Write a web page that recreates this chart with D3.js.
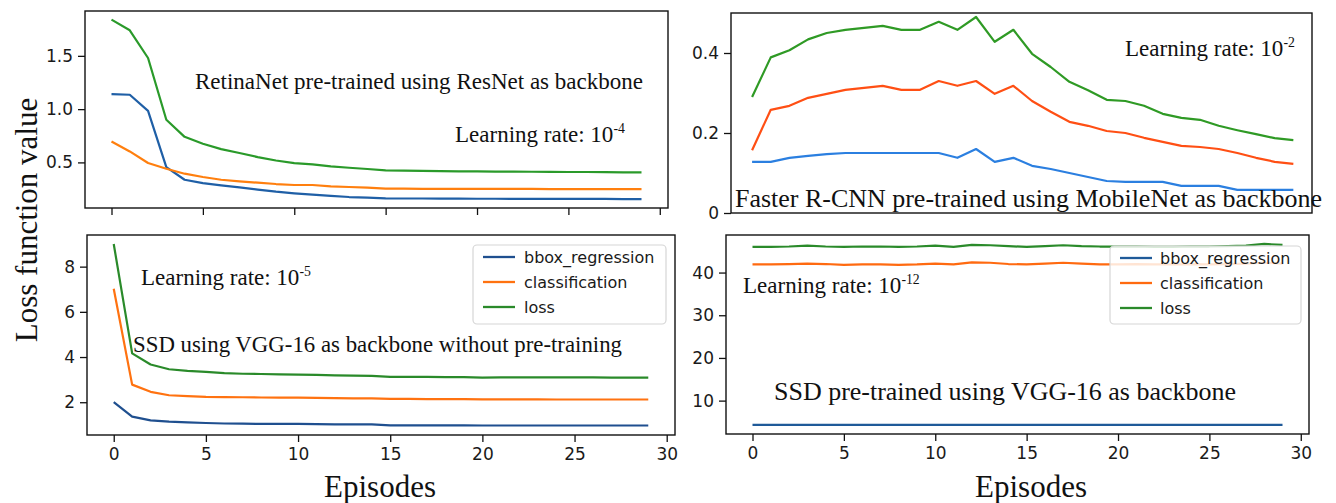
<!DOCTYPE html>
<html><head><meta charset="utf-8">
<script src="https://cdn.jsdelivr.net/npm/d3@7"></script>
<style>body{margin:0;background:#fff;} svg{display:block;}</style>
</head><body>
<svg id="chart" width="1336" height="503"></svg>
<script>
// ---------- DATA ----------
const episodes = [0,1,2,3,4,5,6,7,8,9,10,11,12,13,14,15,16,17,18,19,20,21,22,23,24,25,26,27,28,29];
const seriesNames = ["bbox_regression", "classification", "loss"];
const xTicks = [0,5,10,15,20,25,30];

// RetinaNet (top-left)
const retinaBbox = [1.14,1.135,0.984,0.455,0.337,0.306,0.284,0.265,0.244,0.225,0.21,0.197,0.185,0.175,0.169,0.162,0.161,0.161,0.16,0.16,0.159,0.159,0.158,0.158,0.158,0.157,0.157,0.157,0.156,0.156];
const retinaCls  = [0.696,0.603,0.494,0.44,0.394,0.363,0.337,0.322,0.31,0.297,0.288,0.288,0.275,0.269,0.263,0.253,0.253,0.252,0.252,0.252,0.251,0.251,0.251,0.251,0.25,0.25,0.25,0.25,0.25,0.25];
const retinaLoss = [1.84,1.74,1.48,0.90,0.74,0.675,0.625,0.588,0.55,0.518,0.494,0.482,0.462,0.45,0.438,0.425,0.422,0.42,0.418,0.416,0.415,0.414,0.413,0.412,0.411,0.41,0.41,0.408,0.407,0.406];
const retinaYTicks = [0.5, 1.0, 1.5];

// Faster R-CNN (top-right)
const fasterBbox = [0.128,0.128,0.138,0.143,0.147,0.15,0.15,0.15,0.15,0.15,0.15,0.138,0.16,0.128,0.138,0.118,0.11,0.10,0.09,0.08,0.078,0.078,0.078,0.068,0.068,0.068,0.058,0.058,0.058,0.058];
const fasterCls  = [0.157,0.258,0.268,0.288,0.298,0.308,0.313,0.318,0.308,0.308,0.33,0.318,0.33,0.298,0.318,0.28,0.253,0.228,0.218,0.205,0.2,0.188,0.178,0.168,0.165,0.16,0.15,0.138,0.128,0.123];
const fasterLoss = [0.29,0.389,0.407,0.434,0.45,0.458,0.463,0.468,0.458,0.458,0.478,0.458,0.49,0.428,0.458,0.398,0.365,0.328,0.307,0.283,0.28,0.268,0.248,0.238,0.233,0.218,0.207,0.197,0.187,0.182];
const fasterYTicks = [0, 0.2, 0.4];

// SSD without pre-training (bottom-left)
const ssdScratchBbox = [2.0,1.36,1.2,1.14,1.11,1.08,1.06,1.05,1.04,1.04,1.04,1.03,1.02,1.02,1.02,0.98,0.98,0.98,0.98,0.98,0.97,0.97,0.97,0.97,0.97,0.97,0.97,0.97,0.97,0.97];
const ssdScratchCls  = [7.02,2.78,2.46,2.31,2.27,2.24,2.23,2.22,2.21,2.2,2.2,2.19,2.18,2.17,2.17,2.15,2.15,2.14,2.14,2.14,2.13,2.13,2.13,2.13,2.12,2.12,2.12,2.12,2.12,2.12];
const ssdScratchLoss = [9.0,4.16,3.67,3.46,3.39,3.34,3.29,3.26,3.25,3.23,3.22,3.21,3.19,3.18,3.17,3.12,3.12,3.12,3.11,3.11,3.09,3.1,3.1,3.1,3.1,3.1,3.1,3.09,3.09,3.09];
const ssdScratchYTicks = [2, 4, 6, 8];

// SSD pre-trained (bottom-right)
const ssdPreBbox = [4.3,4.3,4.3,4.3,4.3,4.3,4.3,4.3,4.3,4.3,4.3,4.3,4.3,4.3,4.3,4.3,4.3,4.3,4.3,4.3,4.3,4.3,4.3,4.3,4.3,4.3,4.3,4.3,4.3,4.3];
const ssdPreCls  = [41.9,41.9,42.0,42.1,42.0,41.8,41.9,41.9,41.8,41.9,42.1,41.9,42.4,42.3,42.0,41.9,42.1,42.3,42.1,41.9,41.9,42.0,41.9,41.9,42.0,41.9,42.0,42.1,42.3,42.1];
const ssdPreLoss = [46.0,46.0,46.1,46.3,46.1,46.0,46.1,46.1,46.0,46.1,46.3,46.0,46.5,46.4,46.2,46.0,46.2,46.4,46.2,46.1,46.1,46.1,46.0,46.0,46.1,46.1,46.2,46.3,46.7,46.5];
const ssdPreYTicks = [10, 20, 30, 40];

// ---------- LAYOUT ----------
const svg = d3.select("#chart");
const SERIF = "'Liberation Serif','Times New Roman',serif";
const SANS = "'DejaVu Sans',sans-serif";
const TICK_FS = 17, LEG_FS = 16;

const panels = [
  { l:85, r:668, t:11, b:208, xd:[-1.45,30.45], yd:[0.072,1.921],
    data:[retinaBbox, retinaCls, retinaLoss], colors:["#1f5fa6","#ff7f0e","#2a9a2a"],
    yTicks:retinaYTicks, yFmt:d3.format(".1f"), xMarks:true, xLabels:false, legend:null,
    texts:[
      {x:195, y:89, size:23, parts:[["RetinaNet pre-trained using ResNet as backbone"]], len:448},
      {x:455, y:142, size:23, parts:[["Learning rate: 10"],["-4",1]]}
    ]},
  { l:731, r:1312, t:13, b:213, xd:[-1.13,30.0], yd:[0,0.5],
    data:[fasterBbox, fasterCls, fasterLoss], colors:["#2b7fe0","#ff4f14","#2f9a25"],
    yTicks:fasterYTicks, yFmt:d => d===0 ? "0" : d3.format(".1f")(d), xMarks:false, xLabels:false, legend:null,
    texts:[
      {x:1125, y:56, size:23, parts:[["Learning rate: 10"],["-2",1]]},
      {x:735, y:207, size:26, parts:[["Faster R-CNN pre-trained using MobileNet as backbone"]], len:587}
    ]},
  { l:87, r:675, t:235, b:435, xd:[-1.45,30.45], yd:[0.55,9.4],
    data:[ssdScratchBbox, ssdScratchCls, ssdScratchLoss], colors:["#1f4f8f","#ff7210","#2a8a2a"],
    yTicks:ssdScratchYTicks, yFmt:d3.format("d"), xMarks:true, xLabels:true,
    legend:{x:473, y:245, w:193, h:79, lineX:478, textX:524, rows:[257,282,307]},
    texts:[
      {x:141, y:285, size:23, parts:[["Learning rate: 10"],["-5",1]]},
      {x:133, y:352, size:23, parts:[["SSD using VGG-16 as backbone without pre-training"]], len:489}
    ]},
  { l:726, r:1309, t:235, b:434, xd:[-1.45,30.45], yd:[2.18,48.8],
    data:[ssdPreBbox, ssdPreCls, ssdPreLoss], colors:["#1f5a99","#ff6a10","#2a8a2a"],
    yTicks:ssdPreYTicks, yFmt:d3.format("d"), xMarks:true, xLabels:true,
    legend:{x:1110, y:246, w:191, h:78, lineX:1115, textX:1160, rows:[258,283,308]},
    texts:[
      {x:743, y:293, size:23, parts:[["Learning rate: 10"],["-12",1]]},
      {x:774, y:400, size:26, parts:[["SSD pre-trained using VGG-16 as backbone"]], len:462}
    ]}
];

panels.forEach(p => {
  const x = d3.scaleLinear().domain(p.xd).range([p.l, p.r]);
  const y = d3.scaleLinear().domain(p.yd).range([p.b, p.t]);
  const g = svg.append("g");

  // y axis
  const ya = g.append("g").attr("transform", `translate(${p.l},0)`)
    .call(d3.axisLeft(y).tickValues(p.yTicks).tickFormat(p.yFmt).tickSize(7).tickPadding(5).tickSizeOuter(0));
  ya.select(".domain").remove();
  ya.selectAll("line").attr("stroke","#111").attr("stroke-width",1.3);
  ya.selectAll("text").attr("font-family",SANS).attr("font-size",TICK_FS).attr("fill","#1a1a1a");

  // x axis
  if (p.xMarks) {
    const xa = g.append("g").attr("transform", `translate(0,${p.b})`)
      .call(d3.axisBottom(x).tickValues(xTicks).tickFormat(p.xLabels ? d3.format("d") : () => "").tickSize(7).tickPadding(6).tickSizeOuter(0));
    xa.select(".domain").remove();
    xa.selectAll("line").attr("stroke","#111").attr("stroke-width",1.3);
    xa.selectAll("text").attr("font-family",SANS).attr("font-size",TICK_FS).attr("fill","#1a1a1a");
  }

  // lines
  const line = d3.line().x((d,i) => x(episodes[i])).y(d => y(d));
  p.data.forEach((s, k) => {
    g.append("path").datum(s).attr("d", line).attr("fill","none")
      .attr("stroke", p.colors[k]).attr("stroke-width", 2.2).attr("stroke-linejoin","round");
  });

  // frame
  g.append("rect").attr("x",p.l).attr("y",p.t).attr("width",p.r-p.l).attr("height",p.b-p.t)
    .attr("fill","none").attr("stroke","#111").attr("stroke-width",1.4);

  // legend
  if (p.legend) {
    const L = p.legend;
    g.append("rect").attr("x",L.x).attr("y",L.y).attr("width",L.w).attr("height",L.h)
      .attr("rx",4).attr("fill","#fff").attr("fill-opacity",0.82).attr("stroke","#d6d6d6").attr("stroke-width",1.2);
    seriesNames.forEach((n,k) => {
      g.append("line").attr("x1",L.lineX+5).attr("x2",L.lineX+37).attr("y1",L.rows[k]).attr("y2",L.rows[k])
        .attr("stroke",p.colors[k]).attr("stroke-width",2.3);
      g.append("text").attr("x",L.textX).attr("y",L.rows[k]).attr("dy","0.35em")
        .attr("font-family",SANS).attr("font-size",LEG_FS).attr("fill","#1a1a1a").text(n);
    });
  }

  // annotations
  p.texts.forEach(t => {
    const tx = g.append("text").attr("x",t.x).attr("y",t.y).attr("font-family",SERIF)
      .attr("font-size",t.size).attr("fill","#111");
    if (t.len) tx.attr("textLength",t.len).attr("lengthAdjust","spacingAndGlyphs");
    t.parts.forEach(pt => {
      const sp = tx.append("tspan").text(pt[0]);
      if (pt[1]) sp.attr("font-size", t.size*0.6).attr("dy", -t.size*0.38);
    });
  });
});

// axis titles
svg.append("text").attr("transform","translate(37,220) rotate(-90)").attr("text-anchor","middle")
  .attr("font-family",SERIF).attr("font-size",31).attr("fill","#111").text("Loss function value");
svg.append("text").attr("x",380).attr("y",497).attr("text-anchor","middle")
  .attr("font-family",SERIF).attr("font-size",31).attr("fill","#111").text("Episodes");
svg.append("text").attr("x",1031).attr("y",497).attr("text-anchor","middle")
  .attr("font-family",SERIF).attr("font-size",31).attr("fill","#111").text("Episodes");
</script>
</body></html>
